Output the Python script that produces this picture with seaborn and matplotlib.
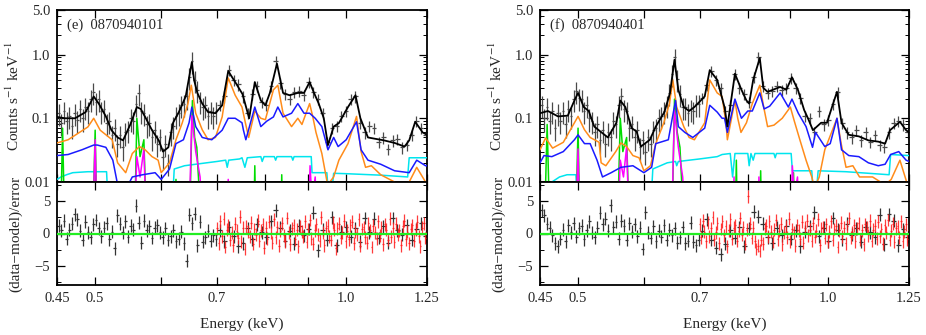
import numpy as np
import matplotlib
matplotlib.use('Agg')
import matplotlib.pyplot as plt
from matplotlib.ticker import FixedLocator, FixedFormatter, LogLocator, NullLocator, NullFormatter
import seaborn as sns

sns.set_theme(style='ticks')
plt.rcParams['font.family'] = ['Liberation Serif', 'DejaVu Serif']
plt.rcParams['mathtext.fontset'] = 'stix'
plt.rcParams['font.size'] = 10.5

# energy bins (keV) of the binned spectra
E_LO = np.geomspace(0.452, 0.698, 60)
E_HI = np.geomspace(0.705, 1.245, 45)
E_RED = np.geomspace(0.70, 1.25, 130)

# ---------------- panel (e) 0870940101 ----------------
e_data_lo = [0.12, 0.085, 0.13, 0.09, 0.11, 0.075, 0.12, 0.095, 0.14, 0.10,
             0.15, 0.13, 0.20, 0.26, 0.18, 0.20, 0.13, 0.14, 0.085, 0.09,
             0.055, 0.07, 0.04, 0.055, 0.035, 0.06, 0.065, 0.10, 0.09, 0.17,
             0.25, 0.13, 0.12, 0.08, 0.085, 0.05, 0.065, 0.04, 0.05, 0.025,
             0.04, 0.02, 0.06, 0.075, 0.11, 0.12, 0.16, 0.17, 0.22, 0.45,
             0.80, 0.40, 0.28, 0.19, 0.15, 0.16, 0.11, 0.13, 0.11, 0.13]
e_data_hi = [0.16, 0.22, 0.58, 0.40, 0.34, 0.22, 0.12, 0.24, 0.32, 0.18,
             0.16, 0.32, 0.80, 0.36, 0.24, 0.20, 0.26, 0.27, 0.23, 0.37,
             0.26, 0.20, 0.12, 0.042, 0.07, 0.075, 0.11, 0.13, 0.20, 0.22,
             0.085, 0.06, 0.075, 0.07, 0.042, 0.05, 0.033, 0.045, 0.048, 0.035,
             0.038, 0.055, 0.09, 0.07, 0.055]
e_model = [(0.45, 0.105), (0.46, 0.10), (0.473, 0.10), (0.487, 0.125), (0.498, 0.22),
           (0.505, 0.17), (0.515, 0.107), (0.523, 0.065), (0.532, 0.05), (0.54, 0.045),
           (0.551, 0.08), (0.561, 0.15), (0.567, 0.14), (0.574, 0.105), (0.585, 0.065),
           (0.596, 0.045), (0.603, 0.03), (0.612, 0.035), (0.62, 0.085), (0.63, 0.125),
           (0.642, 0.22), (0.653, 0.76), (0.657, 0.4), (0.663, 0.25), (0.672, 0.17),
           (0.683, 0.125), (0.697, 0.12), (0.71, 0.16), (0.722, 0.55), (0.737, 0.36),
           (0.751, 0.24), (0.765, 0.10), (0.777, 0.37), (0.79, 0.19), (0.80, 0.16),
           (0.81, 0.25), (0.826, 0.72), (0.84, 0.25), (0.855, 0.23), (0.875, 0.25),
           (0.89, 0.25), (0.904, 0.37), (0.915, 0.25), (0.927, 0.17), (0.94, 0.10),
           (0.951, 0.038), (0.966, 0.074), (0.98, 0.084), (1.005, 0.15), (1.026, 0.23),
           (1.04, 0.10), (1.062, 0.05), (1.08, 0.048), (1.11, 0.045), (1.143, 0.041),
           (1.175, 0.036), (1.19, 0.045), (1.21, 0.088), (1.235, 0.06), (1.25, 0.055)]
e_orange = [(0.45, 0.041), (0.464, 0.046), (0.49, 0.073), (0.498, 0.10), (0.507, 0.065),
            (0.524, 0.046), (0.532, 0.02), (0.544, 0.014), (0.554, 0.028), (0.565, 0.036),
            (0.574, 0.032), (0.585, 0.025), (0.595, 0.022), (0.60, 0.014), (0.614, 0.02),
            (0.625, 0.046), (0.636, 0.085), (0.646, 0.17), (0.652, 0.33), (0.66, 0.12),
            (0.672, 0.066), (0.683, 0.046), (0.697, 0.05), (0.71, 0.105), (0.722, 0.43),
            (0.736, 0.23), (0.75, 0.15), (0.757, 0.085), (0.764, 0.05), (0.777, 0.13),
            (0.79, 0.10), (0.80, 0.095), (0.818, 0.28), (0.828, 0.33), (0.84, 0.12),
            (0.86, 0.074), (0.875, 0.10), (0.885, 0.08), (0.904, 0.17), (0.912, 0.105),
            (0.92, 0.06), (0.935, 0.028), (0.95, 0.009), (0.966, 0.012), (0.98, 0.022),
            (1.005, 0.04), (1.029, 0.107), (1.042, 0.03), (1.055, 0.017), (1.072, 0.018),
            (1.10, 0.013), (1.143, 0.010), (1.16, 0.008), (1.19, 0.010), (1.215, 0.017),
            (1.245, 0.010), (1.25, 0.009)]
e_blue = [(0.45, 0.026), (0.464, 0.027), (0.482, 0.032), (0.498, 0.038), (0.503, 0.038),
          (0.515, 0.035), (0.525, 0.022), (0.533, 0.008), (0.545, 0.008), (0.554, 0.012),
          (0.57, 0.013), (0.59, 0.014), (0.60, 0.011), (0.614, 0.016), (0.625, 0.04),
          (0.638, 0.046), (0.648, 0.085), (0.653, 0.15), (0.66, 0.074), (0.672, 0.05),
          (0.69, 0.046), (0.71, 0.065), (0.722, 0.10), (0.736, 0.10), (0.75, 0.085),
          (0.753, 0.065), (0.758, 0.046), (0.777, 0.15), (0.79, 0.074), (0.803, 0.09),
          (0.818, 0.105), (0.828, 0.15), (0.84, 0.105), (0.86, 0.12), (0.875, 0.17),
          (0.89, 0.12), (0.904, 0.12), (0.918, 0.10), (0.935, 0.074), (0.951, 0.032),
          (0.966, 0.05), (0.978, 0.036), (1.0, 0.046), (1.029, 0.088), (1.042, 0.032),
          (1.062, 0.022), (1.10, 0.019), (1.143, 0.015), (1.19, 0.014), (1.215, 0.022),
          (1.245, 0.018), (1.25, 0.018)]
e_cyan = [(0.45, 0.011), (0.455, 0.012), (0.462, 0.013), (0.47, 0.014), (0.49, 0.0145),
          (0.516, 0.0145), (0.518, 0.005), (0.619, 0.005), (0.622, 0.016), (0.64, 0.018),
          (0.66, 0.019), (0.70, 0.021), (0.717, 0.022), (0.72, 0.017), (0.723, 0.022),
          (0.745, 0.023), (0.75, 0.024), (0.756, 0.017), (0.761, 0.024), (0.79, 0.025),
          (0.793, 0.021), (0.797, 0.025), (0.82, 0.025), (0.823, 0.022), (0.826, 0.025),
          (0.86, 0.025), (0.863, 0.022), (0.866, 0.025), (0.908, 0.025), (0.91, 0.014),
          (0.948, 0.014), (0.951, 0.008), (0.962, 0.008), (0.966, 0.0137), (1.0, 0.0135),
          (1.10, 0.0128), (1.185, 0.012), (1.19, 0.024), (1.25, 0.024)]
e_green = [(0.45, 0.001), (0.454, 0.001), (0.457, 0.07), (0.46, 0.001), (0.496, 0.001),
           (0.50, 0.065), (0.503, 0.001), (0.557, 0.001), (0.561, 0.10), (0.566, 0.025),
           (0.572, 0.046), (0.577, 0.001), (0.622, 0.001), (0.625, 0.011), (0.628, 0.001),
           (0.648, 0.001), (0.654, 0.19), (0.658, 0.05), (0.662, 0.035), (0.672, 0.001),
           (0.774, 0.001), (0.777, 0.018), (0.78, 0.001), (0.834, 0.001), (0.837, 0.013),
           (0.84, 0.001), (1.25, 0.001)]
e_magenta = [(0.45, 0.001), (0.496, 0.001), (0.50, 0.046), (0.503, 0.001), (0.556, 0.001),
             (0.561, 0.025), (0.566, 0.012), (0.572, 0.033), (0.577, 0.001), (0.647, 0.001),
             (0.653, 0.11), (0.66, 0.03), (0.668, 0.012), (0.675, 0.001), (0.719, 0.001),
             (0.722, 0.011), (0.725, 0.001), (0.90, 0.001), (0.905, 0.018), (0.91, 0.005),
             (0.918, 0.012), (0.924, 0.001), (1.25, 0.001)]
e_resid_black = [1.2, 0.5, 2.0, -0.8, 0.6, 1.5, 3.0, 2.2, 0.4, -1.0,
                 1.8, 0.2, -0.6, 1.4, 2.1, 0.8, -0.4, 0.9, 1.6, -0.9,
                 0.3, -2.3, 2.8, 1.5, 0.2, 1.9, -0.5, 1.2, 0.6, 4.3,
                 1.7, -1.4, 2.0, 0.5, 1.1, -0.7, 0.9, 1.3, 0.2, -0.6,
                 0.8, -1.0, -0.4, 0.5, -1.2, -0.8, 0.3, -1.5, -4.2, 2.9,
                 1.6, 3.1, -1.8, 1.8, -1.3, -0.6, 0.4, -1.1, -0.3, -0.9,
                 0.5, -1.2, 1.0, -0.4, -2.0, -1.5, 0.8, -0.9, 1.4, 0.2,
                 -0.6, 1.9, 3.6, 0.9, -1.1, 0.4, -1.6, 1.2, -0.3, 0.7,
                 3.2, -2.6, 0.6, -1.0, 2.5, -1.8, 0.3, 1.0, -0.5, 0.8,
                 -1.3, 2.4, 0.2, 2.3, -0.7, 1.1, -1.4, 2.4, 0.5, -0.2,
                 1.3, -1.0, 0.7, 1.6, -0.4]
e_resid_red = [0.8, -1.5, 1.9, -0.4, 2.3, -2.1, 0.6, 1.2, -1.0, 0.2,
               -1.8, 1.5, 0.4, -0.7, 2.6, -1.3, 0.9, -2.4, 1.1, 0.3,
               -0.5, 1.7, -1.6, 0.7, -0.2, 2.0, -1.1, 0.5, 1.4, -2.2,
               0.9, -0.8, 1.8, 0.1, -1.4, 2.2, -0.6, 1.0, -1.9, 0.4,
               1.6, -0.3, -1.2, 2.4, 0.2, -1.7, 0.8, 1.3, -0.9, 0.6,
               -2.0, 1.1, 0.3, -0.5, 1.9, -1.3, 0.7, 2.1, -0.8, -1.6,
               0.5, 1.4, -0.2, -1.1, 2.5, 0.1, -1.8, 0.9, 1.2, -0.4,
               -1.0, 1.7, 0.6, -2.3, 0.8, 1.5, -0.7, 0.2, 2.0, -1.2,
               0.4, -0.9, 1.3, 1.8, -1.5, 0.3, -0.1, 2.2, -1.9, 0.7,
               1.0, -0.6, -1.4, 1.6, 0.5, -2.1, 1.2, 0.2, -0.8, 1.9,
               -0.3, 0.9, -1.7, 1.4, 0.6, -1.0, 2.3, -0.5, 0.8, -1.3,
               1.5, -0.2, 0.4, -1.8, 1.1, 2.0, -0.9, 0.3, -1.5, 0.7,
               1.3, -1.1, 0.6, 1.8, -0.4, -2.0, 0.9, 1.6, -0.7, 0.2]

# ---------------- panel (f) 0870940401 ----------------
f_data_lo = [0.16, 0.10, 0.15, 0.09, 0.13, 0.07, 0.12, 0.09, 0.13, 0.08,
             0.14, 0.11, 0.20, 0.27, 0.21, 0.20, 0.13, 0.16, 0.10, 0.09,
             0.06, 0.08, 0.045, 0.065, 0.04, 0.06, 0.05, 0.09, 0.08, 0.16,
             0.22, 0.14, 0.13, 0.07, 0.08, 0.05, 0.065, 0.035, 0.045, 0.03,
             0.05, 0.04, 0.065, 0.07, 0.10, 0.11, 0.13, 0.16, 0.25, 0.50,
             0.90, 0.42, 0.24, 0.15, 0.15, 0.12, 0.14, 0.13, 0.17, 0.17]
f_data_hi = [0.21, 0.33, 0.56, 0.40, 0.30, 0.13, 0.16, 0.50, 0.30, 0.24,
             0.18, 0.45, 0.90, 0.32, 0.25, 0.27, 0.32, 0.28, 0.30, 0.43,
             0.30, 0.21, 0.11, 0.10, 0.06, 0.13, 0.08, 0.095, 0.17, 0.26,
             0.085, 0.06, 0.05, 0.065, 0.045, 0.06, 0.042, 0.055, 0.038, 0.036,
             0.06, 0.085, 0.09, 0.08, 0.06]
f_model = [(0.45, 0.12), (0.46, 0.13), (0.473, 0.107), (0.486, 0.11), (0.495, 0.19),
           (0.50, 0.25), (0.508, 0.15), (0.515, 0.13), (0.523, 0.074), (0.543, 0.05),
           (0.556, 0.085), (0.562, 0.19), (0.57, 0.15), (0.58, 0.07), (0.588, 0.062),
           (0.595, 0.036), (0.61, 0.046), (0.62, 0.074), (0.635, 0.125), (0.645, 0.25),
           (0.653, 0.83), (0.66, 0.28), (0.67, 0.15), (0.68, 0.13), (0.69, 0.15),
           (0.71, 0.22), (0.72, 0.57), (0.735, 0.40), (0.75, 0.15), (0.756, 0.074),
           (0.772, 0.50), (0.786, 0.28), (0.797, 0.19), (0.803, 0.17), (0.812, 0.40),
           (0.827, 0.88), (0.835, 0.30), (0.845, 0.26), (0.875, 0.31), (0.89, 0.28),
           (0.904, 0.44), (0.919, 0.28), (0.935, 0.135), (0.945, 0.10), (0.958, 0.065),
           (0.98, 0.085), (0.996, 0.085), (1.01, 0.15), (1.024, 0.26), (1.037, 0.085),
           (1.058, 0.055), (1.088, 0.052), (1.117, 0.045), (1.148, 0.043), (1.17, 0.04),
           (1.186, 0.065), (1.219, 0.088), (1.24, 0.065), (1.25, 0.06)]
f_orange = [(0.45, 0.032), (0.457, 0.049), (0.466, 0.034), (0.48, 0.042), (0.495, 0.085),
            (0.50, 0.107), (0.509, 0.066), (0.517, 0.05), (0.53, 0.042), (0.533, 0.02),
            (0.54, 0.018), (0.555, 0.03), (0.563, 0.041), (0.572, 0.036), (0.582, 0.026),
            (0.592, 0.024), (0.60, 0.015), (0.611, 0.018), (0.62, 0.04), (0.634, 0.085),
            (0.644, 0.17), (0.65, 0.40), (0.657, 0.15), (0.67, 0.074), (0.68, 0.05),
            (0.69, 0.046), (0.71, 0.085), (0.72, 0.40), (0.735, 0.25), (0.745, 0.22),
            (0.753, 0.085), (0.756, 0.046), (0.772, 0.19), (0.778, 0.10), (0.785, 0.06),
            (0.797, 0.085), (0.81, 0.17), (0.827, 0.33), (0.836, 0.15), (0.845, 0.074),
            (0.86, 0.078), (0.88, 0.10), (0.90, 0.15), (0.91, 0.09), (0.924, 0.046),
            (0.94, 0.022), (0.955, 0.012), (0.962, 0.008), (0.975, 0.012), (0.99, 0.032),
            (1.015, 0.074), (1.024, 0.10), (1.036, 0.04), (1.05, 0.017), (1.07, 0.018),
            (1.09, 0.012), (1.13, 0.012), (1.17, 0.009), (1.19, 0.011), (1.219, 0.022),
            (1.245, 0.009), (1.25, 0.008)]
f_blue = [(0.45, 0.02), (0.455, 0.026), (0.465, 0.025), (0.48, 0.03), (0.495, 0.046),
          (0.50, 0.055), (0.509, 0.04), (0.517, 0.04), (0.527, 0.022), (0.535, 0.012),
          (0.548, 0.014), (0.563, 0.017), (0.582, 0.018), (0.60, 0.014), (0.613, 0.017),
          (0.62, 0.04), (0.642, 0.046), (0.649, 0.10), (0.655, 0.19), (0.66, 0.074),
          (0.672, 0.06), (0.687, 0.05), (0.71, 0.07), (0.72, 0.16), (0.735, 0.125),
          (0.745, 0.10), (0.75, 0.10), (0.756, 0.06), (0.772, 0.20), (0.786, 0.10),
          (0.80, 0.13), (0.81, 0.13), (0.827, 0.25), (0.837, 0.14), (0.85, 0.155),
          (0.875, 0.25), (0.895, 0.15), (0.904, 0.20), (0.92, 0.12), (0.94, 0.074),
          (0.957, 0.035), (0.965, 0.06), (0.99, 0.036), (1.005, 0.04), (1.024, 0.10),
          (1.037, 0.032), (1.058, 0.026), (1.088, 0.025), (1.117, 0.02), (1.148, 0.018),
          (1.17, 0.019), (1.188, 0.027), (1.215, 0.03), (1.24, 0.022), (1.25, 0.021)]
f_cyan = [(0.462, 0.005), (0.465, 0.01), (0.475, 0.012), (0.485, 0.013), (0.497, 0.013),
          (0.499, 0.005), (0.612, 0.005), (0.615, 0.016), (0.64, 0.02), (0.655, 0.021),
          (0.657, 0.018), (0.66, 0.021), (0.70, 0.023), (0.735, 0.025), (0.745, 0.027),
          (0.762, 0.028), (0.767, 0.012), (0.772, 0.028), (0.80, 0.028), (0.803, 0.018),
          (0.807, 0.028), (0.812, 0.022), (0.816, 0.028), (0.86, 0.028), (0.863, 0.024),
          (0.866, 0.028), (0.902, 0.028), (0.905, 0.015), (0.955, 0.015), (0.958, 0.008),
          (0.968, 0.008), (0.972, 0.015), (1.05, 0.0145), (1.183, 0.013), (1.188, 0.027),
          (1.25, 0.026)]
f_green = [(0.45, 0.001), (0.455, 0.001), (0.459, 0.08), (0.463, 0.001), (0.496, 0.001),
           (0.50, 0.07), (0.503, 0.001), (0.557, 0.001), (0.562, 0.10), (0.566, 0.03),
           (0.572, 0.05), (0.577, 0.001), (0.648, 0.001), (0.653, 0.20), (0.658, 0.06),
           (0.663, 0.035), (0.672, 0.001), (0.772, 0.001), (0.775, 0.022), (0.778, 0.001),
           (0.826, 0.001), (0.829, 0.015), (0.832, 0.001), (0.904, 0.001), (0.908, 0.014),
           (0.912, 0.001), (1.25, 0.001)]
f_magenta = [(0.45, 0.001), (0.496, 0.001), (0.50, 0.033), (0.503, 0.001), (0.557, 0.001),
             (0.562, 0.022), (0.567, 0.012), (0.572, 0.036), (0.577, 0.001), (0.647, 0.001),
             (0.653, 0.135), (0.66, 0.035), (0.668, 0.012), (0.675, 0.001), (0.767, 0.001),
             (0.77, 0.012), (0.773, 0.001), (0.822, 0.001), (0.825, 0.012), (0.828, 0.001),
             (0.90, 0.001), (0.905, 0.018), (0.91, 0.006), (0.918, 0.012), (0.924, 0.001),
             (1.25, 0.001)]
f_resid_black = [3.6, 2.8, 1.5, 0.9, -0.3, -1.5, -2.0, -0.8, 0.6, -1.2,
                 1.3, 0.2, 1.6, -0.5, 0.8, 1.2, -0.9, 0.5, 1.9, 0.1,
                 -0.6, 0.9, 3.2, 1.4, 2.3, 0.4, 4.4, 1.0, 1.8, -0.8,
                 2.0, 1.2, -1.0, 1.6, 0.3, 1.4, -0.4, 0.9, -2.4, 3.3,
                 0.2, -0.7, 1.1, -1.2, 0.4, -0.5, 1.3, -1.0, 0.6, -0.3,
                 0.8, -1.4, -0.6, 1.0, -1.5, -1.1, 1.7, -1.3, -1.8, -1.0,
                 0.4, 2.2, -1.0, -2.2, -3.2, -1.6, 0.5, -0.7, 1.0, -2.0,
                 0.8, 3.4, 2.6, 1.5, -0.6, -1.5, 0.9, -0.3, 1.2, -0.8,
                 0.5, -2.0, 0.3, 1.1, 3.3, -0.4, 0.9, -1.2, 2.4, 0.6,
                 -0.9, 1.5, -0.2, 0.8, -1.3, 1.0, 0.2, -0.6, 2.9, -1.7,
                 3.0, 2.0, -1.8, 0.7, -0.5]
f_resid_red = [1.4, -0.6, 2.0, 0.3, -1.2, 1.7, -0.4, 0.8, 2.5, -0.9,
               0.2, 1.6, -1.5, 0.7, 1.9, -0.3, 1.1, -2.0, 0.5, 2.2,
               -0.8, 0.9, 1.3, -1.1, 0.4, 2.4, -0.2, 1.0, -1.6, 0.6,
               5.8, 1.5, -0.7, 0.9, -1.2, -2.4, -1.9, -2.7, -1.0, -1.6,
               0.8, 1.2, -0.5, 1.9, 0.3, -1.3, 0.6, 2.1, -0.9, 0.4,
               1.5, -1.7, 0.2, 1.1, -0.6, 2.3, -1.2, 0.7, 0.1, -1.9,
               1.3, 0.5, -0.8, 1.8, -1.4, 0.9, 2.0, -0.3, 0.6, -1.1,
               1.6, -0.5, 0.4, 2.2, -1.8, 0.8, 1.0, -0.7, 1.4, -1.3,
               0.3, 1.9, -1.0, 0.7, 1.2, -2.1, 0.5, 1.7, -0.4, 0.9,
               -1.5, 1.1, 2.4, -0.6, 0.2, 1.3, -1.2, 0.8, 1.6, -0.9,
               0.5, -1.7, 1.4, 0.9, -0.3, 2.0, -1.1, 0.6, 1.2, -0.8,
               1.8, -0.4, 0.7, -1.6, 1.3, 0.2, 2.1, -1.0, 0.4, 1.5,
               -1.3, 0.8, 1.1, -0.6, 1.9, -1.2, 0.3, 1.4, -0.9, 0.6]

panels = [
    dict(tag='(e)  0870940101', data_lo=e_data_lo, data_hi=e_data_hi, model=e_model,
         comps=[(e_cyan, '#00e5ee'), (e_green, '#00dd00'), (e_magenta, '#ff00ff'),
                (e_orange, '#ff8c1a'), (e_blue, '#1a1aff')],
         res_black=e_resid_black, res_red=e_resid_red),
    dict(tag='(f)  0870940401', data_lo=f_data_lo, data_hi=f_data_hi, model=f_model,
         comps=[(f_cyan, '#00e5ee'), (f_green, '#00dd00'), (f_magenta, '#ff00ff'),
                (f_orange, '#ff8c1a'), (f_blue, '#1a1aff')],
         res_black=f_resid_black, res_red=f_resid_red),
]

W, H = 926, 335
fig = plt.figure(figsize=(W / 100, H / 100), dpi=100)

lefts = [57, 540]
widths = [370, 369]
top_px, mid_px, bot_px = 10, 182, 285

xt = [0.45, 0.5, 0.6, 0.7, 0.8, 0.9, 1.0, 1.25]
xl = ['0.45', '0.5', '', '0.7', '', '', '1.0', '1.25']


def style_axis(ax):
    for s in ax.spines.values():
        s.set_linewidth(1.3)
        s.set_color('black')
    ax.tick_params(which='both', direction='in', top=True, right=True,
                   color='black', labelsize=10.5, pad=5)
    ax.tick_params(which='major', length=6, width=0.9)
    ax.tick_params(which='minor', length=3, width=0.7)
    ax.set_xscale('log')
    ax.set_xlim(0.45, 1.25)
    ax.xaxis.set_major_locator(FixedLocator(xt))
    ax.xaxis.set_major_formatter(FixedFormatter(xl))
    ax.xaxis.set_minor_locator(NullLocator())
    ax.xaxis.set_minor_formatter(NullFormatter())


for P, lp, wp in zip(panels, lefts, widths):
    axt = fig.add_axes([lp / W, (H - mid_px) / H, wp / W, (mid_px - top_px) / H])
    axb = fig.add_axes([lp / W, (H - bot_px) / H, wp / W, (bot_px - mid_px) / H])

    # upper: spectrum
    e_all = np.concatenate([E_LO, E_HI])
    d_all = np.array(P['data_lo'] + P['data_hi'])
    rel = np.concatenate([np.full(len(E_LO), 0.38), np.full(len(E_HI), 0.2)])
    half = np.concatenate([E_LO * 0.0037, E_HI * 0.0065])
    axt.errorbar(e_all, d_all, yerr=d_all * rel, xerr=half, fmt='none',
                 ecolor='#4a4a4a', elinewidth=0.9, capsize=0, zorder=2)
    mE, mV = np.array(P['model']).T
    sns.lineplot(x=mE, y=mV, ax=axt, color='black', lw=1.3, sort=False,
                 estimator=None, zorder=4)
    for comp, col in P['comps']:
        cE, cV = np.array(comp).T
        sns.lineplot(x=cE, y=cV, ax=axt, color=col, lw=1.1, sort=False,
                     estimator=None, zorder=3)
    style_axis(axt)
    axt.set_yscale('log')
    axt.set_ylim(0.01, 5.0)
    axt.yaxis.set_major_locator(FixedLocator([0.01, 0.1, 1.0, 5.0]))
    axt.yaxis.set_major_formatter(FixedFormatter(['0.01', '0.1', '1.0', '5.0']))
    axt.yaxis.set_minor_locator(LogLocator(base=10, subs=np.arange(2, 10)))
    axt.yaxis.set_minor_formatter(NullFormatter())
    axt.tick_params(axis='x', labelbottom=False)
    axt.set_xlabel('')
    axt.set_ylabel('Counts s$^{-1}$ keV$^{-1}$', fontsize=11)
    axt.yaxis.set_label_coords(-35 / wp, 0.5)
    axt.text(0.028, 0.91, P['tag'], transform=axt.transAxes, ha='left',
             va='center', fontsize=10.5)

    # lower: residuals
    rb = np.array(P['res_black'])
    rr = np.array(P['res_red'])
    axb.errorbar(E_RED, rr, yerr=1.0, xerr=E_RED * 0.0022, fmt='none',
                 ecolor='#ff1a1a', elinewidth=0.9, alpha=0.85, zorder=3)
    axb.errorbar(e_all, rb, yerr=1.0, xerr=half, fmt='none',
                 ecolor='#333333', elinewidth=0.9, zorder=2)
    axb.axhline(0, color='#22ee22', lw=1.6, zorder=5)
    style_axis(axb)
    axb.set_ylim(-8, 8)
    axb.yaxis.set_major_locator(FixedLocator([-5, 0, 5]))
    axb.yaxis.set_major_formatter(FixedFormatter(['\u22125', '0', '5']))
    axb.yaxis.set_minor_locator(FixedLocator([-7.5, -2.5, 2.5, 7.5]))
    axb.set_xlabel('Energy (keV)', fontsize=11, labelpad=9)
    axb.set_ylabel('(data\u2212model)/error', fontsize=11)
    axb.yaxis.set_label_coords(-35 / wp, 0.5)

fig.savefig('out.png', dpi=100)
